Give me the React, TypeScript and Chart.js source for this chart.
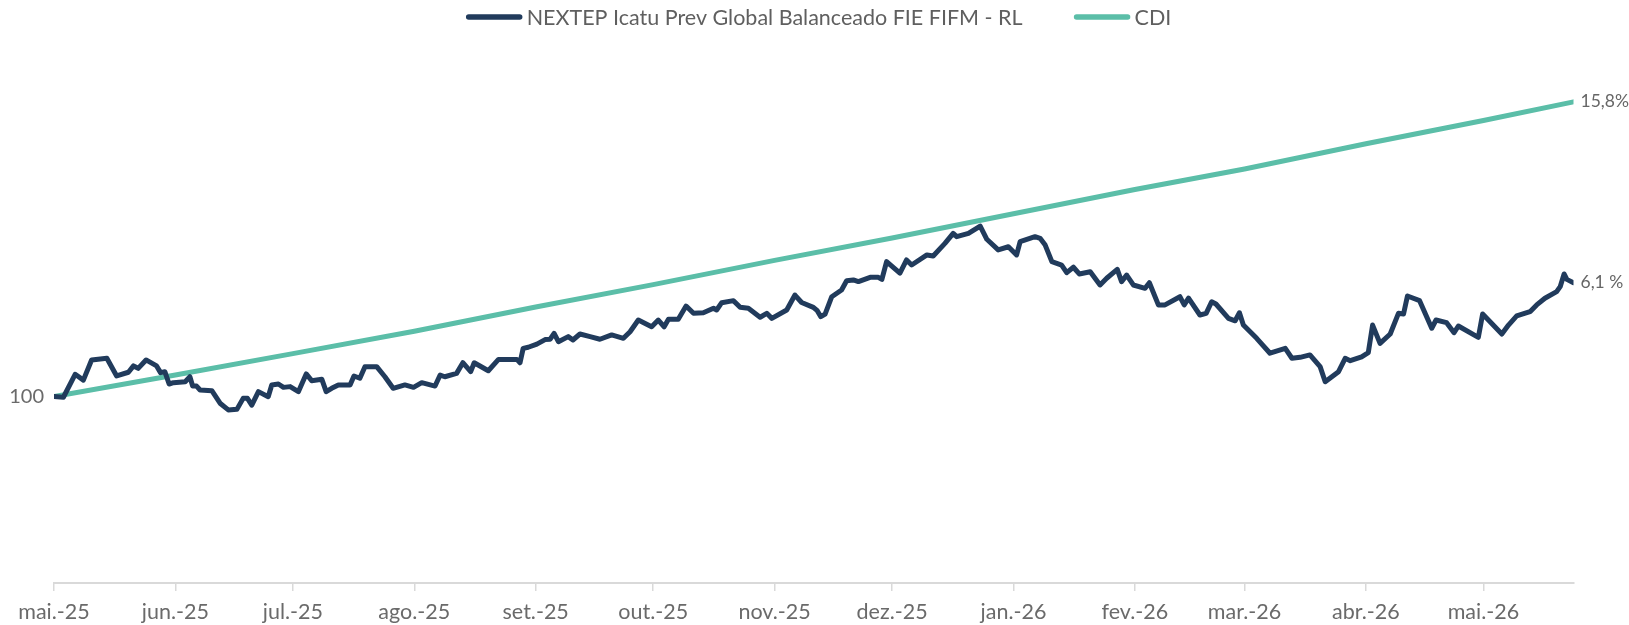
import React, { useEffect, useRef } from "react";
import { Chart, registerables } from "chart.js";

Chart.register(...registerables);

// x positions are days since 1 May 2025
const tickDays = [0, 31, 61, 92, 123, 153, 184, 214, 245, 276, 304, 335, 365];
const tickLabels = [
  "mai.-25", "jun.-25", "jul.-25", "ago.-25", "set.-25", "out.-25", "nov.-25",
  "dez.-25", "jan.-26", "fev.-26", "mar.-26", "abr.-26", "mai.-26",
];

const fundName = "NEXTEP Icatu Prev Global Balanceado FIE FIFM - RL";
const cdiName = "CDI";

const fundDays = [
  0, 2.4, 5.4, 7.5, 9.6, 13.5, 16.0, 19.0, 20.3, 21.5, 23.5, 26.2, 27.2, 28.3, 29.4, 30.5,
  33.5, 34.7, 35.4, 36.4, 37.3, 40.3, 42.4, 44.5, 46.7, 48.3, 49.4, 50.5, 52.2, 54.7, 55.6,
  57.3, 58.6, 60.3, 62.4, 64.4, 65.8, 68.4, 69.5, 70.9, 72.6, 75.6, 76.6, 78.1, 79.4, 82.4,
  84.5, 86.6, 89.6, 91.8, 93.9, 97.3, 98.6, 99.8, 102.8, 104.4, 105.4, 106.4, 107.3, 110.9,
  113.5, 118.2, 119.0, 119.8, 121.1, 123.3, 125.4, 126.7, 127.7, 128.8, 131.3, 132.5, 134.3,
  136.9, 139.4, 142.4, 145.4, 147.1, 149.2, 152.6, 154.3, 155.8, 156.9, 159.4, 161.4, 163.3,
  165.8, 168.4, 169.2, 170.5, 173.5, 175.2, 177.3, 180.3, 182.0, 183.3, 187.1, 189.2, 190.9,
  193.9, 194.9, 195.8, 196.9, 198.6, 201.1, 202.4, 204.1, 205.4, 208.4, 210.5, 211.4, 212.6,
  216.0, 217.7, 219.0, 222.9, 224.5, 227.5, 229.6, 230.5, 233.5, 236.5, 238.2, 241.1, 243.7,
  245.8, 246.7, 250.5, 251.8, 253.1, 254.8, 257.3, 258.6, 260.3, 261.8, 264.6, 267.1, 268.8,
  271.5, 272.6, 273.9, 275.6, 278.6, 279.7, 282.0, 283.7, 287.5, 288.6, 289.7, 292.6, 294.2,
  295.6, 296.7, 299.9, 301.6, 302.7, 303.7, 307.1, 310.5, 314.4, 316.1, 318.2, 320.7, 323.3,
  324.6, 328.0, 329.7, 331.0, 333.9, 335.6, 336.7, 338.6, 341.2, 343.3, 344.6, 345.6, 348.7,
  351.8, 352.9, 355.6, 357.5, 358.6, 363.7, 364.8, 369.7, 371.4, 373.5, 376.9, 378.6, 380.7,
  383.7, 384.6, 385.6, 386.3, 388.0,
];

const fundValues = [
  100.0, 99.96, 101.19, 100.88, 101.96, 102.05, 101.1, 101.3, 101.64, 101.51, 101.96, 101.64, 101.28, 101.33, 100.67, 100.74,
  100.79, 101.06, 100.56, 100.56, 100.35, 100.31, 99.64, 99.28, 99.31, 99.9, 99.9, 99.54, 100.26, 99.99, 100.62,
  100.67, 100.49, 100.53, 100.26, 101.21, 100.85, 100.92, 100.26, 100.44, 100.62, 100.62, 101.1, 100.98, 101.6, 101.6,
  101.06, 100.44, 100.62, 100.49, 100.74, 100.56, 101.15, 101.06, 101.24, 101.81, 101.57, 101.33, 101.81, 101.38,
  101.99, 101.99, 101.81, 102.58, 102.64, 102.81, 103.05, 103.07, 103.39, 102.94, 103.21, 103.03, 103.35,
  103.21, 103.07, 103.3, 103.12, 103.47, 104.1, 103.74, 104.1, 103.74, 104.14, 104.14, 104.85, 104.46,
  104.49, 104.73, 104.64, 105.03, 105.14, 104.78, 104.73, 104.25, 104.46, 104.19, 104.64, 105.44, 105.04,
  104.78, 104.6, 104.28, 104.42, 105.35, 105.71, 106.21, 106.25, 106.16, 106.39, 106.39, 106.28, 107.23,
  106.61, 107.32, 107.05, 107.59, 107.53, 108.21, 108.75, 108.57, 108.75, 109.14, 108.43, 107.86, 108.03,
  107.59, 108.3, 108.57, 108.48, 108.12, 107.23, 107.05, 106.64, 106.93, 106.57, 106.69, 105.98, 106.34,
  106.82, 106.16, 106.51, 105.98, 105.8, 106.1, 104.91, 104.91, 105.35, 104.91, 105.27, 104.37, 104.46,
  105.08, 104.96, 104.19, 104.06, 104.49, 103.83, 103.12, 102.32, 102.58, 102.05, 102.1, 102.23, 101.6,
  100.79, 101.33, 102.05, 101.92, 102.13, 102.35, 103.83, 102.85, 103.35, 104.46, 104.42, 105.39, 105.14,
  103.66, 104.1, 103.96, 103.42, 103.78, 103.17, 104.42, 103.35, 103.83, 104.32, 104.55, 104.91, 105.27,
  105.62, 105.89, 106.57, 106.28, 106.1,
];

const cdiDays = [0, 31, 61, 92, 123, 153, 184, 214, 245, 276, 304, 335, 365, 388];
const cdiValues = [100, 101.15, 102.3, 103.5, 104.8, 106.0, 107.3, 108.5, 109.8, 111.1, 112.2, 113.55, 114.8, 115.8];

const endLabels = ["6,1 %", "15,8%"];
const yTickValues = [100];

const FONT = "Lato, 'Open Sans', sans-serif";
const FUND_COLOR = "#213b5c";
const CDI_COLOR = "#5bbea8";

export default function App() {
  const ref = useRef<HTMLCanvasElement>(null);

  useEffect(() => {
    if (!ref.current) return;

    const endLabelPlugin = {
      id: "endLabels",
      afterDatasetsDraw(chart: any) {
        const ctx = chart.ctx;
        ctx.save();
        ctx.font = `17.5px ${FONT}`;
        ctx.fillStyle = "#666666";
        ctx.textAlign = "left";
        ctx.textBaseline = "middle";
        chart.data.datasets.forEach((ds: any, i: number) => {
          const meta = chart.getDatasetMeta(i);
          const pt = meta.data[meta.data.length - 1];
          if (pt) ctx.fillText(endLabels[i], pt.x + 7, pt.y);
        });
        ctx.restore();
      },
    };

    const legendPlugin = {
      id: "customLegend",
      afterDraw(chart: any) {
        const ctx = chart.ctx;
        ctx.save();
        ctx.font = `21.5px ${FONT}`;
        ctx.textBaseline = "middle";
        ctx.textAlign = "left";
        const items = chart.data.datasets.map((ds: any) => ({
          text: ds.label,
          color: ds.borderColor,
          w: ctx.measureText(ds.label).width,
        }));
        const box = 57;
        const gapText = 4;
        const gapItem = 51;
        let total = 0;
        items.forEach((it: any, i: number) => {
          total += box + gapText + it.w + (i < items.length - 1 ? gapItem : 0);
        });
        let x = (chart.width - total) / 2 + 4;
        const y = 17;
        items.forEach((it: any) => {
          ctx.strokeStyle = it.color;
          ctx.lineWidth = 5.5;
          ctx.lineCap = "round";
          ctx.beginPath();
          ctx.moveTo(x + 3, y);
          ctx.lineTo(x + box - 3, y);
          ctx.stroke();
          ctx.fillStyle = "#5f5f5f";
          ctx.fillText(it.text, x + box + gapText, y + 1);
          x += box + gapText + it.w + gapItem;
        });
        ctx.restore();
      },
    };

    const chart = new Chart(ref.current, {
      type: "line",
      data: {
        datasets: [
          {
            label: fundName,
            data: fundDays.map((d, i) => ({ x: d, y: fundValues[i] })),
            borderColor: FUND_COLOR,
            backgroundColor: FUND_COLOR,
            borderWidth: 5,
            pointRadius: 0,
            tension: 0,
            borderJoinStyle: "round",
            borderCapStyle: "round",
          },
          {
            label: cdiName,
            data: cdiDays.map((d, i) => ({ x: d, y: cdiValues[i] })),
            borderColor: CDI_COLOR,
            backgroundColor: CDI_COLOR,
            borderWidth: 5,
            pointRadius: 0,
            tension: 0,
            borderJoinStyle: "round",
            borderCapStyle: "round",
          },
        ],
      },
      options: {
        animation: false,
        responsive: true,
        maintainAspectRatio: false,
        layout: { padding: { top: 23.5, right: 55.5, bottom: 0, left: 0 } },
        plugins: {
          legend: { display: false },
          tooltip: { enabled: false },
        },
        scales: {
          x: {
            type: "linear",
            min: 0,
            max: 388,
            afterFit: (s: any) => {
              s.height = 42;
            },
            afterBuildTicks: (s: any) => {
              s.ticks = tickDays.map((v) => ({ value: v }));
            },
            border: { display: true, color: "#d9d9d9", width: 2 },
            grid: {
              display: true,
              drawOnChartArea: false,
              drawTicks: true,
              tickLength: 8,
              color: "#d9d9d9",
              lineWidth: 1.5,
            },
            ticks: {
              autoSkip: false,
              maxRotation: 0,
              minRotation: 0,
              padding: 8,
              color: "#6a6a6a",
              font: { family: FONT, size: 21.5 },
              callback: (_v: any, i: number) => tickLabels[i],
            },
          },
          y: {
            min: 90,
            max: 120,
            afterFit: (s: any) => {
              s.width = 54;
            },
            afterBuildTicks: (s: any) => {
              s.ticks = yTickValues.map((v) => ({ value: v }));
            },
            border: { display: false },
            grid: { display: false, drawTicks: false },
            ticks: {
              padding: 10,
              color: "#6a6a6a",
              font: { family: FONT, size: 20 },
              callback: (v: any) => String(v),
            },
          },
        },
      },
      plugins: [endLabelPlugin, legendPlugin],
    });

    return () => chart.destroy();
  }, []);

  return (
    <div style={{ position: "fixed", left: 0, top: 0, width: 1629, height: 625, background: "#fff" }}>
      <canvas ref={ref} />
    </div>
  );
}
